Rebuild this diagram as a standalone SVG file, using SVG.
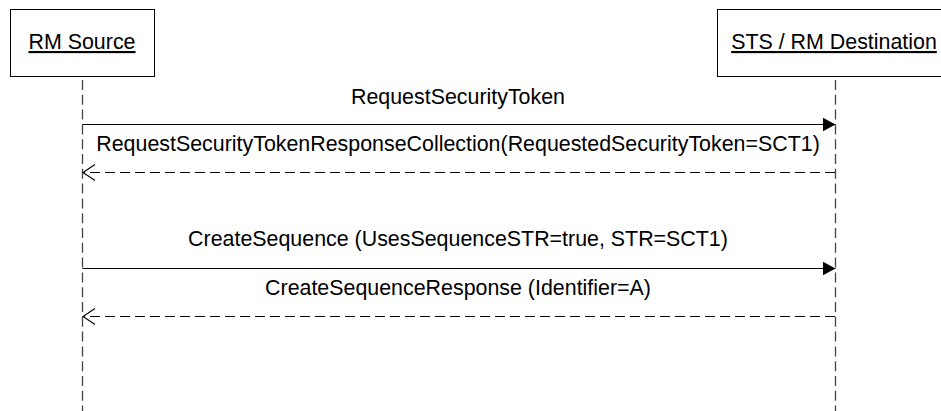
<svg xmlns="http://www.w3.org/2000/svg" width="941" height="411" viewBox="0 0 941 411">
<style>
text{font-family:"Liberation Sans",Arial,sans-serif;font-size:21.4px;fill:#000}
.lbl{text-anchor:middle}
.box{fill:#fff;stroke:#000;stroke-width:1}
.life{stroke:#444;stroke-width:1.3;stroke-dasharray:10 4.8;fill:none}
.msg{stroke:#000;stroke-width:1.2;fill:none}
.ret{stroke:#000;stroke-width:1;fill:none;stroke-dasharray:10 5}
</style>
<defs>
<marker id="filled" markerWidth="13" markerHeight="14" refX="13" refY="7" orient="auto" markerUnits="userSpaceOnUse">
<path d="M0,0 L13,7 L0,14 Z" fill="#000"/>
</marker>
<marker id="open" markerWidth="14" markerHeight="20" refX="13" refY="9" orient="auto" markerUnits="userSpaceOnUse">
<path d="M1,1 L13,9 L1,17" fill="none" stroke="#000" stroke-width="1.1"/>
</marker>
</defs>
<g id="rm-source">
<rect class="box" x="10.5" y="9.5" width="144" height="67"/>
<text class="lbl" x="82" y="49" text-decoration="underline">RM Source</text>
<line class="life" x1="82.5" y1="80" x2="82.5" y2="411"/>
</g>
<g id="sts-rm-destination">
<rect class="box" x="717.5" y="9.5" width="236" height="67"/>
<text class="lbl" x="834" y="49" text-decoration="underline">STS / RM Destination</text>
<line class="life" x1="835.5" y1="80" x2="835.5" y2="411"/>
</g>
<g id="connectors">
<line class="msg" x1="82.5" y1="124.5" x2="835.5" y2="124.5" marker-end="url(#filled)"/>
<text class="lbl" x="458" y="104">RequestSecurityToken</text>
<line class="ret" x1="835" y1="172.5" x2="83" y2="172.5" marker-end="url(#open)"/>
<text class="lbl" x="458" y="151">RequestSecurityTokenResponseCollection(RequestedSecurityToken=SCT1)</text>
<line class="msg" x1="82.5" y1="268.5" x2="835.5" y2="268.5" marker-end="url(#filled)"/>
<text class="lbl" x="458" y="246">CreateSequence (UsesSequenceSTR=true, STR=SCT1)</text>
<line class="ret" x1="835" y1="316.5" x2="83" y2="316.5" marker-end="url(#open)"/>
<text class="lbl" x="458" y="295">CreateSequenceResponse (Identifier=A)</text>
</g>
</svg>
